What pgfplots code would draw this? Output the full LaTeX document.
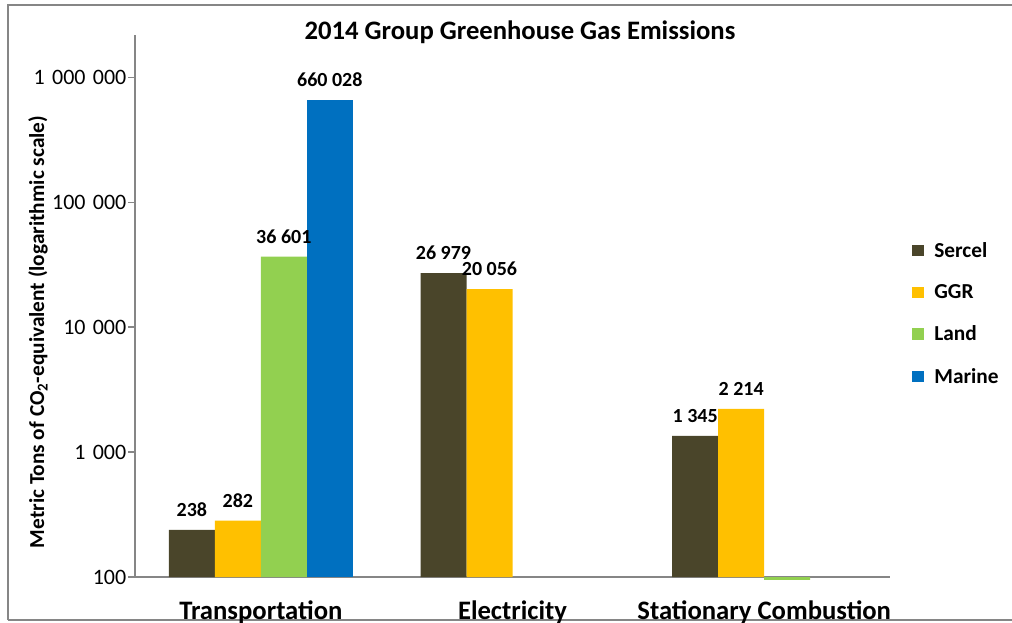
\documentclass[border=0pt]{standalone}
\usepackage{fontspec}
\setmainfont{Carlito}
\usepackage{pgfplots}
\pgfplotsset{compat=1.18}

\definecolor{sercel}{HTML}{4A452A}
\definecolor{ggr}{HTML}{FFC000}
\definecolor{land}{HTML}{92D050}
\definecolor{marine}{HTML}{0070C0}
\definecolor{axisgray}{HTML}{868686}

\newcommand{\tsp}{\hspace{0.33em}}

\begin{document}
\begin{tikzpicture}
% frame and title, in pixels of the reference (1 px = 0.75 pt)
\begin{scope}[x=0.75pt,y=-0.75pt]
  \draw[axisgray, line width=1.5pt] (8,620) -- (8,5) -- (1020,5);
  \draw[axisgray, line width=1.5pt] (8,620) -- (1020,620);
  \node[font=\bfseries\fontsize{20}{24}\selectfont] at (520,32) {2014 Group Greenhouse Gas Emissions};
\end{scope}

\begin{axis}[
    at={(101.25pt,-432.75pt)}, anchor=south west,
    scale only axis,
    width=566.25pt, height=406.5pt,
    ymode=log,
    log origin y=infty,
    ymin=100, ymax=2170000,
    xmin=-0.5, xmax=2.5,
    ybar=0pt, bar width=34.5pt,
    clip=false,
    axis x line*=bottom, axis y line*=left,
    axis line style={draw=axisgray, line width=0.8pt, -},
    tick style={draw=axisgray, line width=0.8pt},
    tick align=outside,
    ytick={100,1000,10000,100000,1000000},
    yticklabels={100, 1\tsp000, 10\tsp000, 100\tsp000, 1\tsp000\tsp000},
    minor ytick={}, yminorticks=false,
    major tick length=5pt,
    yticklabel style={font=\fontsize{16.5}{19}\selectfont, xshift=2pt},
    xtick={0,1,2},
    xticklabels={Transportation, Electricity, Stationary Combustion},
    xtick style={draw=none},
    xticklabel style={font=\bfseries\fontsize{20}{24}\selectfont, yshift=-9pt},
    extra x ticks={-0.5,0.5,1.5,2.5},
    extra x tick labels={},
    extra x tick style={tick style={draw=axisgray, line width=0.8pt}, major tick length=6pt},
    ylabel={Metric Tons of CO\textsubscript{2}-equivalent (logarithmic scale)},
    every axis y label/.style={at={(axis description cs:-0.1285,0.452)}, rotate=90, anchor=center,
      font=\bfseries\fontsize{16}{19}\selectfont},
    nodes near coords,
    point meta=explicit symbolic,
    every node near coord/.append style={font=\bfseries\fontsize{15}{18}\selectfont, black, yshift=6.5pt},
    legend style={draw=none, fill=none, at={(1.024,0.628)}, anchor=north west,
      font=\bfseries\fontsize{16}{19}\selectfont, row sep=15pt,
      /tikz/every odd column/.append style={column sep=6pt}},
    legend image code/.code={\fill[#1] (0pt,-4pt) rectangle (8.5pt,4.5pt);},
    legend cell align=left,
]
\addplot[fill=sercel, draw=none] coordinates {(0,238) [238] (1,26979) [26 979] (2,1345) [1 345]};
\addplot[fill=ggr, draw=none] coordinates {(0,282) [282] (1,20056) [20 056] (2,2214) [2 214]};
\addplot[fill=land, draw=none] coordinates {(0,36601) [36 601] (2,95) [{}]};
\addplot[fill=marine, draw=none] coordinates {(0,660028) [660 028]};
\legend{Sercel, GGR, Land, Marine}
\end{axis}

\pgfresetboundingbox
\path[use as bounding box] (0pt,0pt) rectangle (759pt,-466.5pt);
\end{tikzpicture}
\end{document}
